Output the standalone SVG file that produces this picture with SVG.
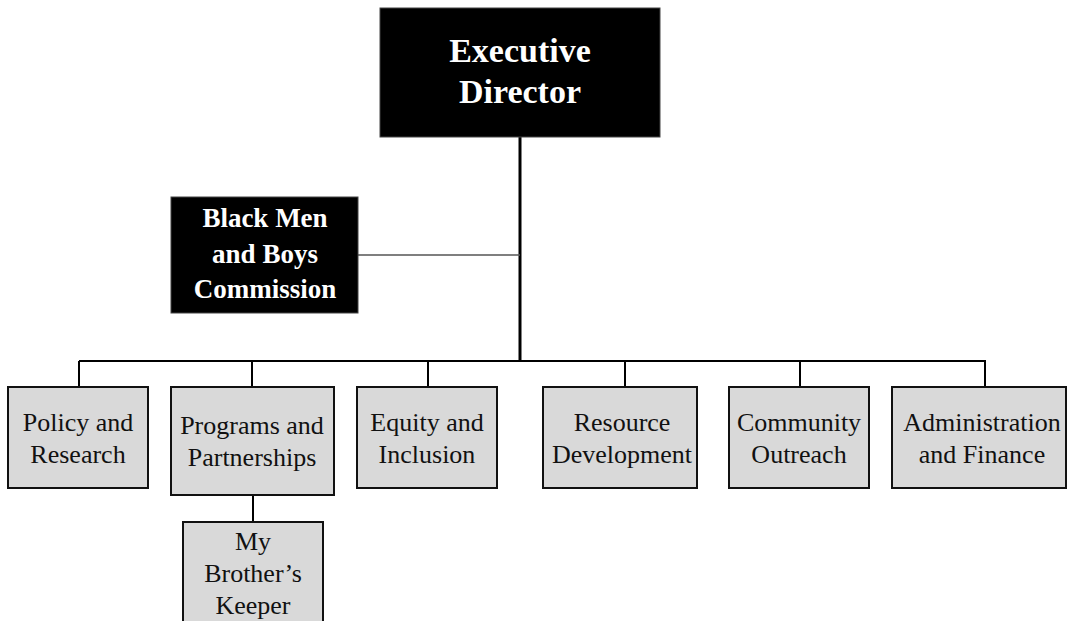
<svg xmlns="http://www.w3.org/2000/svg" width="1068" height="621" viewBox="0 0 1068 621">
<style>
.dark{fill:#000;stroke:#444;stroke-width:1}
.dept{fill:#d9d9d9;stroke:#111;stroke-width:2}
.tw{font-family:"Liberation Serif","DejaVu Serif",serif;font-weight:bold;fill:#fff;text-anchor:middle}
.tb{font-family:"Liberation Serif","DejaVu Serif",serif;font-size:26px;fill:#111;text-anchor:middle}
.ln{stroke:#000;stroke-width:2;fill:none}
</style>
<rect width="1068" height="621" fill="#fff"/>
<g id="connectors">
<line x1="520" y1="137" x2="520" y2="362" stroke="#000" stroke-width="3"/>
<line x1="358" y1="255" x2="520" y2="255" stroke="#555" stroke-width="1.5"/>
<line class="ln" x1="79" y1="361" x2="986" y2="361"/>
<line class="ln" x1="79" y1="361" x2="79" y2="387"/>
<line class="ln" x1="252" y1="361" x2="252" y2="387"/>
<line class="ln" x1="428" y1="361" x2="428" y2="387"/>
<line class="ln" x1="625" y1="361" x2="625" y2="387"/>
<line class="ln" x1="800" y1="361" x2="800" y2="387"/>
<line class="ln" x1="985" y1="361" x2="985" y2="387"/>
<line class="ln" x1="253" y1="495" x2="253" y2="522"/>
</g>
<g id="executive-director">
<rect class="dark" x="380" y="8" width="280" height="129"/>
<text class="tw" font-size="34" x="520" y="62">Executive</text>
<text class="tw" font-size="34" x="520" y="103">Director</text>
</g>
<g id="bmb-commission">
<rect class="dark" x="171" y="197" width="187" height="116"/>
<text class="tw" font-size="27" x="265" y="227">Black Men</text>
<text class="tw" font-size="27" x="265" y="263">and Boys</text>
<text class="tw" font-size="27" x="265" y="298">Commission</text>
</g>
<g id="policy-research">
<rect class="dept" x="8" y="387" width="140" height="101"/>
<text class="tb" x="78" y="431">Policy and</text>
<text class="tb" x="78" y="463">Research</text>
</g>
<g id="programs-partnerships">
<rect class="dept" x="171" y="387" width="163" height="108"/>
<text class="tb" x="252" y="434">Programs and</text>
<text class="tb" x="252" y="466">Partnerships</text>
</g>
<g id="equity-inclusion">
<rect class="dept" x="357" y="387" width="140" height="101"/>
<text class="tb" x="427" y="431">Equity and</text>
<text class="tb" x="427" y="463">Inclusion</text>
</g>
<g id="resource-development">
<rect class="dept" x="543" y="387" width="154" height="101"/>
<text class="tb" x="622" y="431">Resource</text>
<text class="tb" x="622" y="463">Development</text>
</g>
<g id="community-outreach">
<rect class="dept" x="729" y="387" width="140" height="101"/>
<text class="tb" x="799" y="431">Community</text>
<text class="tb" x="799" y="463">Outreach</text>
</g>
<g id="administration-finance">
<rect class="dept" x="892" y="387" width="174" height="101"/>
<text class="tb" x="982" y="431">Administration</text>
<text class="tb" x="982" y="463">and Finance</text>
</g>
<g id="my-brothers-keeper">
<rect class="dept" x="183" y="522" width="140" height="110"/>
<text class="tb" x="253" y="550">My</text>
<text class="tb" x="253" y="582">Brother’s</text>
<text class="tb" x="253" y="614">Keeper</text>
</g>
</svg>
